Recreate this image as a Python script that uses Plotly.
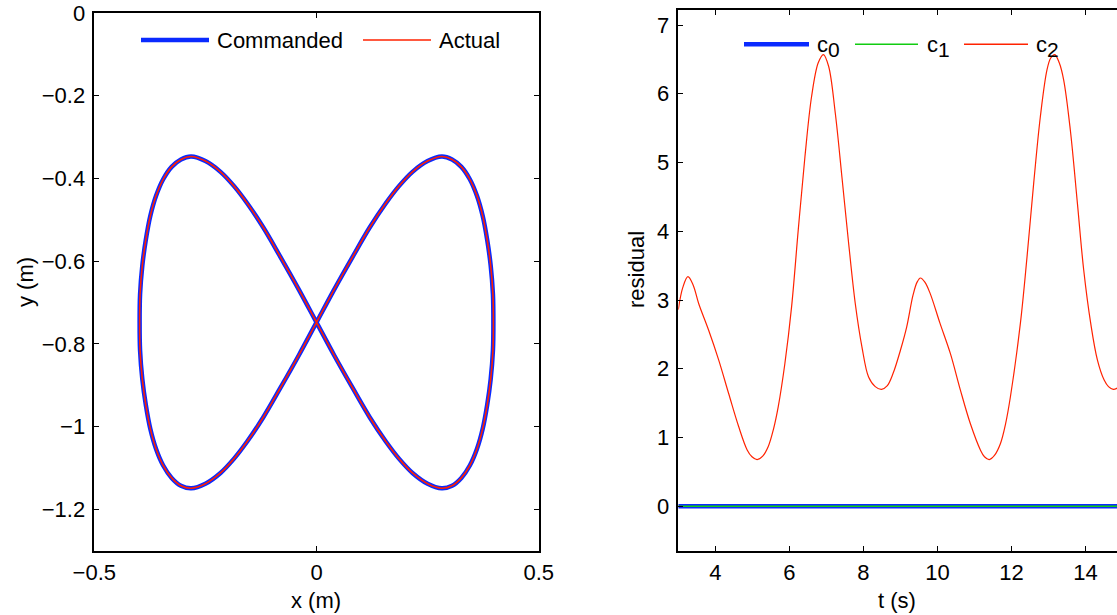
import plotly.graph_objects as go

# ---------------- data ----------------
# Left panel: figure-eight trajectory (x, y in metres)
cmd_x = [0.398, 0.397, 0.392, 0.384, 0.374, 0.361, 0.345, 0.326, 0.305, 0.282, 0.250, 0.216,
         0.186, 0.156, 0.120, 0.081, 0.040, 0.0,
         -0.040, -0.081, -0.120, -0.156, -0.186, -0.216, -0.250, -0.282, -0.305, -0.326,
         -0.345, -0.361, -0.374, -0.384, -0.392, -0.397, -0.398,
         -0.397, -0.392, -0.384, -0.374, -0.361, -0.345, -0.326, -0.305, -0.282, -0.250,
         -0.216, -0.186, -0.156, -0.120, -0.081, -0.040, 0.0,
         0.040, 0.081, 0.120, 0.156, 0.186, 0.216, 0.250, 0.282, 0.305, 0.326,
         0.345, 0.361, 0.374, 0.384, 0.392, 0.397, 0.398]
cmd_y = [-0.750, -0.680, -0.611, -0.548, -0.491, -0.442, -0.402, -0.372, -0.354, -0.347, -0.358, -0.384,
         -0.418, -0.460, -0.518, -0.590, -0.668, -0.748,
         -0.828, -0.906, -0.978, -1.036, -1.078, -1.112, -1.138, -1.149, -1.143, -1.124,
         -1.094, -1.054, -1.005, -0.948, -0.885, -0.816, -0.750,
         -0.680, -0.611, -0.548, -0.491, -0.442, -0.402, -0.372, -0.354, -0.347, -0.358,
         -0.384, -0.418, -0.460, -0.518, -0.590, -0.668, -0.748,
         -0.828, -0.906, -0.978, -1.036, -1.078, -1.112, -1.138, -1.149, -1.143, -1.124,
         -1.094, -1.054, -1.005, -0.948, -0.885, -0.816, -0.750]
act_x = list(cmd_x)
act_y = list(cmd_y)

# Right panel: residuals vs time
t_flat = [3.0, 15.0]
c0 = [0.0, 0.0]
c1 = [0.0, 0.0]
t_c2 = [3.0, 3.12, 3.26, 3.40, 3.55, 3.82, 4.09, 4.36, 4.63, 4.86, 4.99, 5.13, 5.28, 5.43,
        5.57, 5.70, 5.88, 6.06, 6.24, 6.42, 6.60, 6.78, 6.92, 7.06, 7.24, 7.42, 7.6,
        7.78, 7.96, 8.14, 8.32, 8.49, 8.64, 8.80, 9.0, 9.17, 9.34, 9.45, 9.54, 9.66,
        9.80, 10.07, 10.35, 10.62, 10.89, 11.16, 11.27, 11.4, 11.54, 11.7, 11.84, 11.97,
        12.24, 12.42, 12.6, 12.78, 12.96, 13.06, 13.17, 13.29, 13.41, 13.59, 13.78,
        13.95, 14.14, 14.32, 14.5, 14.62, 14.75, 14.86]
c2 = [2.86, 3.18, 3.34, 3.22, 2.95, 2.56, 2.13, 1.64, 1.16, 0.82, 0.72, 0.68, 0.73, 0.87,
      1.12, 1.45, 2.08, 2.90, 4.02, 5.08, 5.96, 6.45, 6.57, 6.40, 5.72, 4.79, 3.83,
      2.95, 2.32, 1.88, 1.74, 1.70, 1.75, 1.93, 2.27, 2.61, 3.07, 3.26, 3.32, 3.26,
      3.10, 2.66, 2.22, 1.69, 1.20, 0.82, 0.72, 0.68, 0.74, 0.91, 1.20, 1.59,
      2.66, 3.63, 4.70, 5.67, 6.35, 6.52, 6.57, 6.45, 6.20, 5.47, 4.41,
      3.44, 2.66, 2.13, 1.84, 1.74, 1.70, 1.72]

x_ticks = [-0.5, 0, 0.5]
y_ticks = [0, -0.2, -0.4, -0.6, -0.8, -1.0, -1.2]
t_ticks = [4, 6, 8, 10, 12, 14]
r_ticks = [0, 1, 2, 3, 4, 5, 6, 7]

# ---------------- style ----------------
W, H = 1117, 615
FONT = "Liberation Sans, Arial, Helvetica, sans-serif"
FS = 22
BLUE = "#0a2aff"
RED = "#ff2200"
GREEN = "#11cc11"

fig = go.Figure()
fig.add_trace(go.Scatter(x=cmd_x, y=cmd_y, mode="lines", name="Commanded",
                         line=dict(color=BLUE, width=4.5, shape="spline", smoothing=1.0),
                         xaxis="x", yaxis="y", showlegend=False))
fig.add_trace(go.Scatter(x=act_x, y=act_y, mode="lines", name="Actual",
                         line=dict(color=RED, width=1.6, shape="spline", smoothing=1.0),
                         xaxis="x", yaxis="y", showlegend=False))
fig.add_trace(go.Scatter(x=t_flat, y=c0, mode="lines", name="c0",
                         line=dict(color=BLUE, width=4.5), xaxis="x2", yaxis="y2",
                         showlegend=False))
fig.add_trace(go.Scatter(x=t_flat, y=c1, mode="lines", name="c1",
                         line=dict(color=GREEN, width=1.6), xaxis="x2", yaxis="y2",
                         showlegend=False))
fig.add_trace(go.Scatter(x=t_c2, y=c2, mode="lines", name="c2",
                         line=dict(color=RED, width=1.2, shape="spline", smoothing=1.0),
                         xaxis="x2", yaxis="y2", showlegend=False))

def px(x):
    return x / W

def py(y):
    return 1 - y / H

axis_common = dict(showgrid=False, zeroline=False, showline=True, linecolor="black",
                   linewidth=1.5, ticks="inside", ticklen=5, tickwidth=1, tickcolor="black",
                   automargin=False,
                   tickfont=dict(family=FONT, size=FS, color="black"))

fig.update_layout(
    width=W, height=H,
    margin=dict(l=0, r=0, t=0, b=0, pad=0, autoexpand=False),
    paper_bgcolor="white", plot_bgcolor="white",
    font=dict(family=FONT, size=FS, color="black"),
    xaxis=dict(domain=[px(94.3), px(538.7)], range=[-0.5, 0.5], tickvals=x_ticks,
               mirror="ticks", anchor="y", ticklabelstandoff=1, **axis_common),
    yaxis=dict(domain=[py(550.7), py(13)], range=[-1.3, 0], tickvals=y_ticks,
               mirror="ticks", anchor="x", ticklabelstandoff=3, **axis_common),
    xaxis2=dict(domain=[px(678.3), 1.0], range=[3, 14.85], tickvals=t_ticks,
                mirror="ticks", anchor="y2", ticklabelstandoff=1, **axis_common),
    yaxis2=dict(domain=[py(550.7), py(10.3)], range=[-0.646, 7.214], tickvals=r_ticks,
                mirror=False, anchor="x2", ticklabelstandoff=3, **axis_common),
)

SUBSTYLE = "font-size:21px"
# axis titles
ann = [
    dict(text="x (m)", x=px(316), y=py(600), xanchor="center", yanchor="middle"),
    dict(text="y (m)", x=px(25), y=py(282), xanchor="center", yanchor="middle", textangle=-90),
    dict(text="t (s)", x=px(897), y=py(600), xanchor="center", yanchor="middle"),
    dict(text="residual", x=px(637), y=py(270), xanchor="center", yanchor="middle", textangle=-90),
    # legends
    dict(text="Commanded", x=px(215), y=py(40), xanchor="left", yanchor="middle"),
    dict(text="Actual", x=px(437), y=py(40), xanchor="left", yanchor="middle"),
    dict(text="c<sub><span style='%s'>0</span></sub>" % SUBSTYLE, x=px(815), y=py(46),
         xanchor="left", yanchor="middle"),
    dict(text="c<sub><span style='%s'>1</span></sub>" % SUBSTYLE, x=px(925), y=py(46),
         xanchor="left", yanchor="middle"),
    dict(text="c<sub><span style='%s'>2</span></sub>" % SUBSTYLE, x=px(1034), y=py(46),
         xanchor="left", yanchor="middle"),
]
for a in ann:
    a.update(xref="paper", yref="paper", showarrow=False,
             font=dict(family=FONT, size=FS, color="black"))
fig.update_layout(annotations=ann)

shapes = [
    dict(x0=px(141), x1=px(209), y0=py(40), y1=py(40), line=dict(color=BLUE, width=4.5)),
    dict(x0=px(363), x1=px(431), y0=py(40), y1=py(40), line=dict(color=RED, width=1.6)),
    dict(x0=px(744), x1=px(809), y0=py(44.3), y1=py(44.3), line=dict(color=BLUE, width=4.5)),
    dict(x0=px(855), x1=px(918), y0=py(44.3), y1=py(44.3), line=dict(color=GREEN, width=1.6)),
    dict(x0=px(964), x1=px(1028), y0=py(44.3), y1=py(44.3), line=dict(color=RED, width=1.6)),
]
for s in shapes:
    s.update(type="line", xref="paper", yref="paper")
fig.update_layout(shapes=shapes)

fig.write_html("out.html")
